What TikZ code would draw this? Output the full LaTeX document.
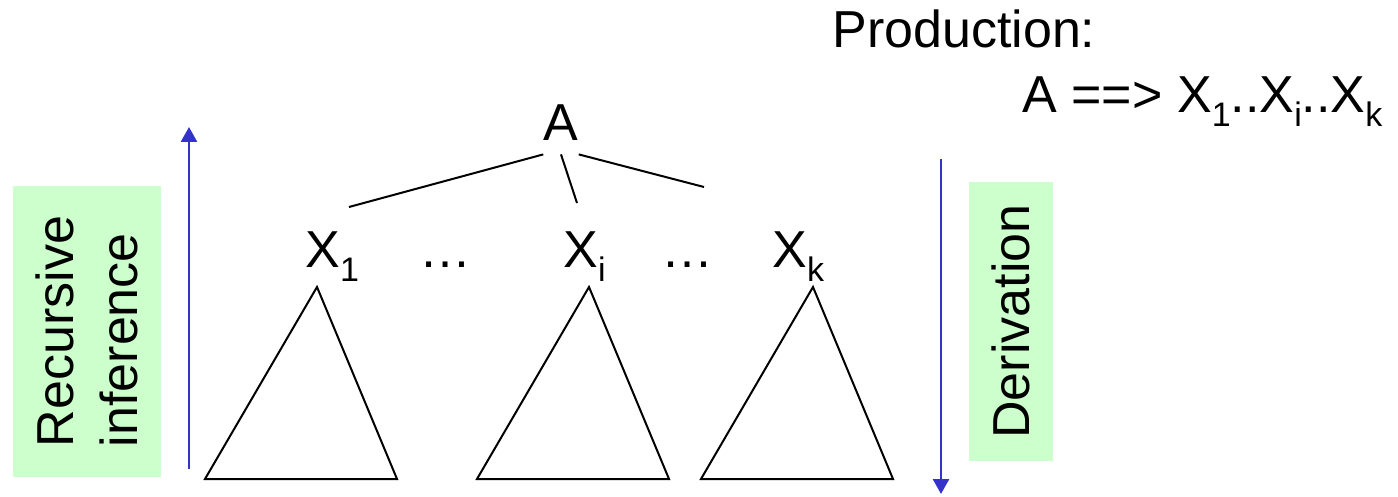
\documentclass[tikz,border=0pt]{standalone}
\usepackage{fontspec}
\setmainfont{Liberation Sans}
\usetikzlibrary{arrows.meta}
\definecolor{flowblue}{RGB}{51,51,204}
\definecolor{notegreen}{RGB}{204,255,204}
\newcommand{\lowsub}[1]{\raisebox{-7pt}{\fontsize{17}{17}\selectfont #1}}

\begin{document}
\begin{tikzpicture}[x=0.5pt, y=-0.5pt,
    sym/.style={inner sep=0pt, anchor=base west, font=\fontsize{26}{31}\selectfont},
    note/.style={rotate=90, fill=notegreen, inner sep=0pt, font=\fontsize{26}{32}\selectfont, align=left},
    flow/.style={draw=flowblue, line width=1.3pt, -{Triangle[length=7.5pt,width=8pt]}}
]
    \useasboundingbox (0,0) rectangle (1398,497);

    % Production rule
    \node[sym] (prod) at (832,48) {Production:};
    \node[sym] (rule) at (1022,113) {A ==> X\lowsub{1}..X\lowsub{i}..X\lowsub{k}};

    % Root and its children
    \node[sym, anchor=base, inner ysep=6.5pt] (A) at (561,141) {A};
    \node[sym] (x1) at (305,268) {X\lowsub{1}};
    \node[sym] (dots1) at (419,268) {…};
    \node[sym] (xi) at (563,268) {X\lowsub{i}};
    \node[sym] (dots2) at (661,268) {…};
    \node[sym] (xk) at (772,268) {X\lowsub{k}};

    % Branches
    \coordinate (e1) at (349,207);
    \coordinate (ei) at (577,203);
    \coordinate (ek) at (704,187);
    \draw[line width=1pt] (A.south west) -- (e1) (A.south) -- (ei) (A.south east) -- (ek);

    % Subtrees
    \foreach \l in {205,477,701} {
        \draw[line width=1pt] (\l,479) -- (\l+112,287) -- (\l+192,479) -- cycle;
    }

    % Side notes
    \node[note, minimum width=145.5pt, minimum height=74pt] (rec) at (87,331.5) {Recursive\\inference};
    \node[note, minimum width=139.5pt, minimum height=42pt] (der) at (1011,321.5) {Derivation};

    % Direction arrows
    \coordinate (up0) at (189,469);
    \coordinate (up1) at (189,127);
    \draw[flow] (up0) -- (up1);
    \coordinate (dn0) at (941,159);
    \coordinate (dn1) at (941,494);
    \draw[flow] (dn0) -- (dn1);
\end{tikzpicture}
\end{document}
